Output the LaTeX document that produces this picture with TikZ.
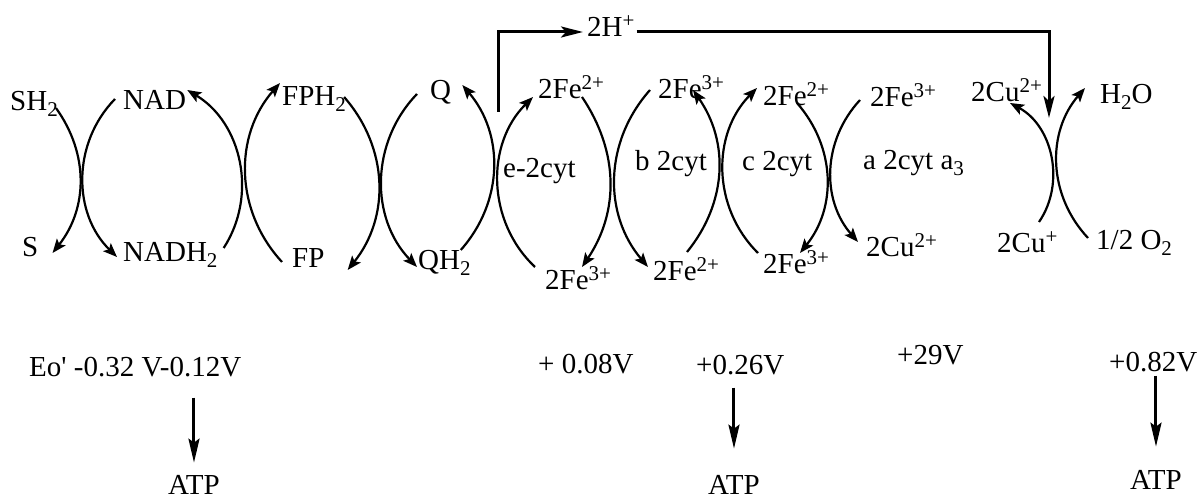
\documentclass[tikz,border=0pt]{standalone}
\usepackage{fontspec}
\setmainfont{Liberation Serif}
\usepackage{tikz}
\usetikzlibrary{arrows.meta, positioning}
\newcommand{\chemup}[1]{\raisebox{9pt}{\fontsize{21}{21}\selectfont #1}}
\newcommand{\chemdn}[1]{\raisebox{-6pt}{\fontsize{21}{21}\selectfont #1}}
\tikzset{
  chem/.style={inner sep=0pt, anchor=base west, font=\fontsize{29}{34}\selectfont},
  rx/.style={-{Stealth[length=14pt, width=11pt, inset=3pt]}, line width=2.2pt},
  hflow/.style={-{Stealth[length=22pt, width=11pt, inset=5pt]}, line width=3pt},
  atparr/.style={-{Stealth[length=24pt, width=11pt, inset=4pt]}, line width=3pt},
}

\begin{document}
\begin{tikzpicture}[x=1pt, y=1pt]
\useasboundingbox (0,0) rectangle (1203,500);
% oxidised / reduced pairs, top row
\node[chem] (sh2) at (10,389) {SH\chemdn{2}};
\node[chem] (nad) at (123,390) {NAD};
\node[chem] (fph2) at (282,394) {FPH\chemdn{2}};
\node[chem] (q) at (430,400) {Q};
\node[chem] (fe2a) at (538,401) {2Fe\chemup{2+}};
\node[chem] (fe3b) at (658,401) {2Fe\chemup{3+}};
\node[chem] (fe2c) at (763,394) {2Fe\chemup{2+}};
\node[chem] (fe3d) at (870,393) {2Fe\chemup{3+}};
\node[chem] (cu2a) at (971,398) {2Cu\chemup{2+}};
\node[chem] (h2o) at (1100,396) {H\chemdn{2}O};
% bottom row
\node[chem] (s) at (22,243) {S};
\node[chem] (nadh2) at (123,238) {NADH\chemdn{2}};
\node[chem] (fp) at (292,232) {FP};
\node[chem] (qh2) at (418,230) {QH\chemdn{2}};
\node[chem] (fe3a) at (545,210) {2Fe\chemup{3+}};
\node[chem] (fe2b) at (653,219) {2Fe\chemup{2+}};
\node[chem] (fe3c) at (763,226) {2Fe\chemup{3+}};
\node[chem] (cu2b) at (866,243) {2Cu\chemup{2+}};
\node[chem] (cu1) at (997,247) {2Cu\chemup{+}};
\node[chem] (o2) at (1096,250) {1/2 O\chemdn{2}};
% cytochromes
\node[chem] (cyte) at (503,322) {e-2cyt};
\node[chem] (cytb) at (635,329) {b 2cyt};
\node[chem] (cytc) at (742,329) {c 2cyt};
\node[chem] (cyta) at (863,330) {a 2cyt a\chemdn{3}};
\node[chem] (hp) at (587,463) {2H\chemup{+}};
% potentials
\node[chem] (e1) at (29,123) {Eo\textquotesingle{} -0.32 V-0.12V};
\node[chem] (e2) at (538,126) {+ 0.08V};
\node[chem] (e3) at (696,125) {+0.26V};
\node[chem] (e4) at (897,135) {+29V};
\node[chem] (e5) at (1109,128) {+0.82V};
\node[chem] (atp1) at (168,5) {ATP};
\node[chem] (atp2) at (708,5) {ATP};
\node[chem] (atp3) at (1130,10) {ATP};

\draw[rx] ([shift={(-2,3)}]sh2.base east) to[bend left=37] ([shift={(14,4)}]s.base east);
\draw[rx] ([shift={(-8,11)}]nad.base west) to[bend right=45] ([shift={(-6,5)}]nadh2.base west);
\draw[rx] ([shift={(6,14)}]nadh2.base east) to[bend right=46] ([shift={(1,20)}]nad.base east);
\draw[rx] ([shift={(-10,6)}]fp.base west) to[bend left=42] ([shift={(-2,23)}]fph2.base west);
\draw[rx] ([shift={(-2,9)}]fph2.base east) to[bend left=40] ([shift={(23,-2)}]fp.base east);
\draw[rx] ([shift={(-13,6)}]q.base west) to[bend right=44] ([shift={(-1,3)}]qh2.base west);
\draw[rx] ([shift={(-10,20)}]qh2.base east) to[bend right=41] ([shift={(11,15)}]q.base east);
\draw[rx] ([shift={(-10,23)}]fe3a.base west) to[bend left=46] ([shift={(-5,2)}]fe2a.base west);
\draw[rx] ([shift={(44,2)}]fe2a.base west) to[bend left=34] ([shift={(37,23)}]fe3a.base west);
\draw[rx] ([shift={(-8,9)}]fe3b.base west) to[bend right=41] ([shift={(-5,14)}]fe2b.base west);
\draw[rx] ([shift={(34,29)}]fe2b.base west) to[bend right=37] ([shift={(35,9)}]fe3b.base west);
\draw[rx] ([shift={(-5,21)}]fe3c.base west) to[bend left=45] ([shift={(-6,18)}]fe2c.base west);
\draw[rx] ([shift={(34,3)}]fe2c.base west) to[bend left=40] ([shift={(37,21)}]fe3c.base west);
\draw[rx] ([shift={(-10,7)}]fe3d.base west) to[bend right=42] ([shift={(-8,15)}]cu2b.base west);
\draw[rx] ([shift={(42,31)}]cu1.base west) to[bend right=48] ([shift={(39,-1)}]cu2a.base west);
\draw[rx] ([shift={(-8,12)}]o2.base west) to[bend left=42] ([shift={(-15,16)}]h2o.base west);

% proton path
\coordinate (hup) at (498,388);
\coordinate (hdown) at (1049,382);
\draw[hflow] (hup) |- ([xshift=-4pt, yshift=5pt]hp.base west);
\draw[hflow] ([xshift=2pt, yshift=5pt]hp.base east) -| (hdown);

\draw[atparr, shorten <=20pt, shorten >=13pt] (atp1.north |- e1.south) -- (atp1.north);
\draw[atparr, shorten <=12pt, shorten >=27pt] (atp2.north |- e3.south) -- (atp2.north);
\draw[atparr, shorten <=3pt, shorten >=24pt] (atp3.north |- e5.south) -- (atp3.north);
\end{tikzpicture}
\end{document}
